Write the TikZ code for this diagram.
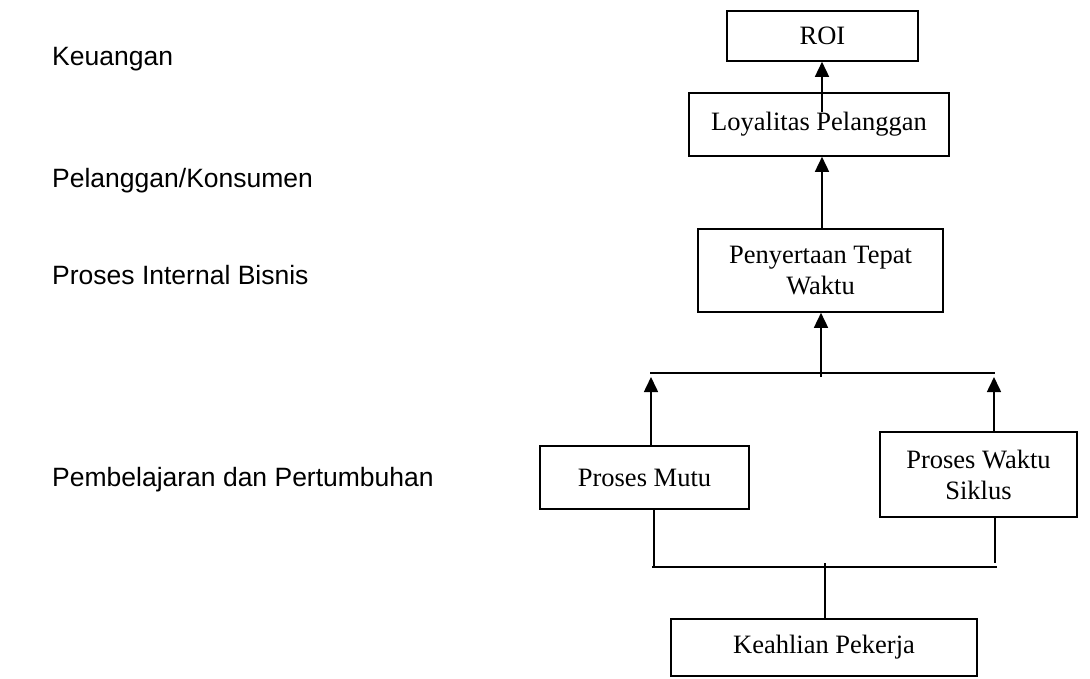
\documentclass[tikz,border=0pt]{standalone}
\usepackage{fontspec}
\setmainfont{Liberation Serif}
\newfontfamily\labelfont{Liberation Sans}
\usetikzlibrary{arrows.meta}
\begin{document}
\begin{tikzpicture}[x=1pt,y=-1pt,
  box/.style={draw,line width=1.6pt,inner sep=0pt,align=center,font=\fontsize{26.5}{31}\selectfont},
  side/.style={anchor=base west,inner sep=0pt,font=\labelfont\fontsize{26.5}{31}\selectfont},
  link/.style={line width=1.6pt},
  uparrow/.style={line width=1.6pt,-{Triangle[width=14pt,length=15pt]}}]
\useasboundingbox[fill=white] (0,0) rectangle (1090,678);
% side labels
\node[side] (k1) at (52,65) {Keuangan};
\node[side] (k2) at (52,187) {Pelanggan/Konsumen};
\node[side] (k3) at (52,284) {Proses Internal Bisnis};
\node[side] (k4) at (52,486) {Pembelajaran dan Pertumbuhan};
% boxes
\node[box,minimum width=191pt,minimum height=50pt] (roi) at (822.5,36) {ROI};
\node[box,minimum width=260pt,minimum height=63pt] (loy) at (819,124.5) {Loyalitas Pelanggan};
\node[box,minimum width=245pt,minimum height=83pt] (pen) at (820.5,270.5) {Penyertaan Tepat\\Waktu};
\node[box,minimum width=209pt,minimum height=63pt] (mutu) at (644.5,477.5) {Proses Mutu};
\node[box,minimum width=197pt,minimum height=85pt] (sik) at (978.5,474.5) {Proses Waktu\\Siklus};
\node[box,minimum width=306pt,minimum height=57pt] (keah) at (824,647.5) {Keahlian Pekerja};
% junction coordinates
\coordinate (l1) at (822,112);
\coordinate (hl) at (650,373);
\coordinate (hr) at (995,373);
\coordinate (hm) at (821,377);
\coordinate (tl) at (651,377);
\coordinate (tr) at (994,377);
\coordinate (bl) at (654,567);
\coordinate (br) at (995,563);
\coordinate (bh1) at (652,567);
\coordinate (bh2) at (997,567);
\coordinate (bm) at (825,563);
% connectors
\draw[uparrow] (l1) -- (roi.south -| l1);
\draw[uparrow] (pen.north -| l1) -- (loy.south -| l1);
\draw[link] (hl) -- (hr);
\draw[uparrow] (hm) -- (pen.south -| hm);
\draw[uparrow] (mutu.north -| tl) -- (tl);
\draw[uparrow] (sik.north -| tr) -- (tr);
\draw[link] (mutu.south -| bl) -- (bl);
\draw[link] (sik.south -| br) -- (br);
\draw[link] (bh1) -- (bh2);
\draw[link] (bm) -- (keah.north -| bm);
\end{tikzpicture}
\end{document}
